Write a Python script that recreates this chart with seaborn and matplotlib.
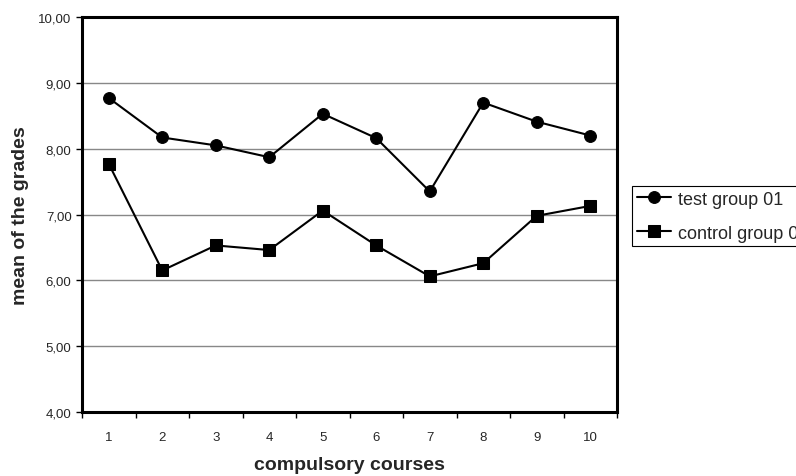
import matplotlib
matplotlib.use("Agg")
import matplotlib.pyplot as plt
import matplotlib.ticker as mticker
import seaborn as sns
import pandas as pd

courses = [1, 2, 3, 4, 5, 6, 7, 8, 9, 10]
test_group = [8.77, 8.17, 8.05, 7.87, 8.53, 8.16, 7.35, 8.70, 8.41, 8.20]
control_group = [7.77, 6.15, 6.53, 6.46, 7.06, 6.53, 6.06, 6.26, 6.98, 7.13]
series_names = ["test group 01", "control group 02"]
y_ticks = [4, 5, 6, 7, 8, 9, 10]

df = pd.DataFrame({
    "course": courses * 2,
    "mean": test_group + control_group,
    "group": [series_names[0]] * len(courses) + [series_names[1]] * len(courses),
})

sns.set_style("white")
plt.rcParams["font.family"] = ["Liberation Sans", "DejaVu Sans"]

fig = plt.figure(figsize=(7.96, 4.77), dpi=100)
ax = fig.add_axes([82 / 796, 1 - 413 / 477, (617 - 82) / 796, (413 - 18) / 477])

sns.lineplot(data=df, x="course", y="mean", hue="group", style="group",
             markers={series_names[0]: "o", series_names[1]: "s"},
             dashes=False, palette={series_names[0]: "black", series_names[1]: "black"},
             markersize=8.5, linewidth=1.5, markeredgecolor="black",
             ax=ax, legend=True)

ax.set_xlim(0.5, 10.5)
ax.set_ylim(4, 10)
ax.set_yticks(y_ticks)
ax.yaxis.set_major_formatter(mticker.FuncFormatter(lambda v, p: f"{v:.2f}".replace(".", ",")))
ax.grid(axis="y", color="#888888", linewidth=1.0)
ax.set_axisbelow(True)

# category axis: tick marks between categories, labels at centers
ax.set_xticks([c + 0.5 for c in [0] + courses])
ax.set_xticklabels([])
ax.set_xticks(courses, minor=True)
ax.set_xticklabels([str(c) for c in courses], minor=True)
ax.tick_params(axis="x", which="major", length=4, width=1, direction="out", bottom=True, color="black")
ax.tick_params(axis="x", which="minor", length=0, pad=14, labelsize=9.5)
ax.tick_params(axis="y", length=4, width=1, direction="out", left=True, labelsize=9.5, color="black")

for s in ax.spines.values():
    s.set_color("black")
    s.set_linewidth(2.2)

ax.set_xlabel("compulsory courses", fontsize=14, fontweight="bold", labelpad=9)
ax.set_ylabel("mean of the grades", fontsize=14, fontweight="bold", labelpad=7)

handles, labels = ax.get_legend_handles_labels()
ax.get_legend().remove()
leg = fig.legend(handles, labels, loc="upper left",
                 bbox_to_anchor=(632 / 796, 1 - 187 / 477),
                 bbox_transform=fig.transFigure,
                 fontsize=13, frameon=True, fancybox=False, framealpha=1,
                 edgecolor="black", handlelength=1.9, labelspacing=0.95,
                 borderpad=0.25, handletextpad=0.4, borderaxespad=0)
leg.get_frame().set_linewidth(0.8)
for h in leg.legend_handles:
    h.set_linewidth(1.5)
    h.set_markersize(8.5)

fig.savefig("out.png", dpi=100, facecolor="white")
